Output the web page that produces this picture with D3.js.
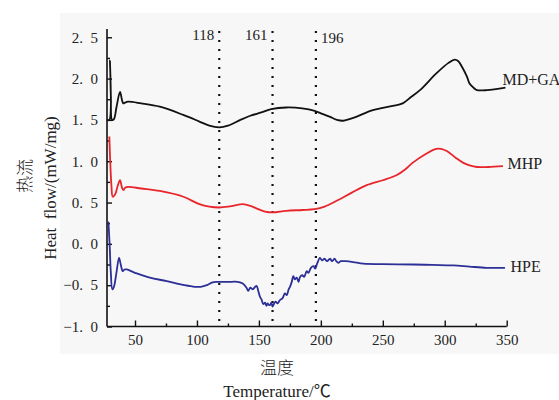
<!DOCTYPE html>
<html><head><meta charset="utf-8">
<script src="https://cdn.jsdelivr.net/npm/d3@7"></script>
<style>
html,body{margin:0;padding:0;background:#fff;}
svg{display:block;}
text{font-family:"Liberation Serif","Times New Roman","Noto Sans CJK SC",serif;fill:#222;}
</style></head>
<body>
<script>
// ---- data ----
const mdgaT = [27.5,29.3,29.8,30.5,31.5,33,35,37.9,39.5,40.5,42,44.4,55,70,89,102,110,118,125,135,143,152,160,172,185,195,200,207,213,218,223,229,240,248,258,266,273,280,293,303,308,311,314,318,320,324,326,334,349];
const mdgaV = [1.50,1.50,2.22,1.80,1.50,1.51,1.65,1.84,1.74,1.70,1.71,1.72,1.70,1.66,1.56,1.48,1.43,1.41,1.43,1.50,1.55,1.59,1.63,1.65,1.64,1.61,1.58,1.54,1.50,1.49,1.51,1.54,1.61,1.64,1.67,1.70,1.78,1.86,2.06,2.19,2.23,2.21,2.14,2.02,1.94,1.88,1.86,1.86,1.89];

const mhpT = [29.3,30,31,32,34,36,37.9,39.5,40.6,42,44.6,55,70,89,102,110,118,125,132,137,143,148,155,161,172,185,195,203,214,225,237,250,261,268,274,285,293,297,302,309,315,320,326,335,347];
const mhpV = [1.30,1.00,0.70,0.57,0.60,0.70,0.77,0.68,0.65,0.68,0.69,0.67,0.64,0.57,0.48,0.45,0.44,0.45,0.47,0.48,0.46,0.43,0.39,0.38,0.40,0.41,0.42,0.45,0.53,0.62,0.71,0.77,0.83,0.90,0.98,1.09,1.15,1.15,1.12,1.04,0.98,0.95,0.93,0.93,0.94];

const hpeT = [28.5,29.5,30.5,31.7,33,35,37.1,38.5,40.1,41.5,43.3,50,62,75.6,90,98.4,103,108,112,116,125,133,137,140,141.4,143,145,147,148.2,149.5,150.9,152,153.6,155,156,157,158,159,160,161,162,163.5,165,167,169,171,172.5,174,175.1,176.5,177.8,179,180.5,182,183.2,185,186.5,188.6,190,192,194,195.5,197,199.3,201,203,205,207.4,209,211,212.5,214.1,216,220,226,234.3,250,274.6,290,306.9,320,333.9,348.6];
const hpeV = [0.27,0.00,-0.35,-0.55,-0.52,-0.35,-0.17,-0.25,-0.33,-0.31,-0.31,-0.35,-0.41,-0.45,-0.50,-0.52,-0.52,-0.50,-0.47,-0.46,-0.46,-0.46,-0.48,-0.53,-0.57,-0.53,-0.55,-0.52,-0.51,-0.57,-0.64,-0.67,-0.73,-0.71,-0.75,-0.72,-0.74,-0.74,-0.71,-0.76,-0.73,-0.70,-0.72,-0.68,-0.66,-0.60,-0.62,-0.55,-0.52,-0.46,-0.39,-0.43,-0.41,-0.46,-0.40,-0.38,-0.40,-0.33,-0.35,-0.29,-0.27,-0.30,-0.24,-0.17,-0.20,-0.18,-0.21,-0.18,-0.21,-0.18,-0.21,-0.23,-0.21,-0.21,-0.22,-0.24,-0.245,-0.25,-0.255,-0.26,-0.275,-0.29,-0.29];

const seriesNames = ["MD+GA","MHP","HPE"];
const seriesColors = ["#111111","#e8252b","#2c2f96"];
const markerTemps = [118,161,196];
const markerLabels = ["118","161","196"];
const xTicks = [50,100,150,200,250,300,350];
const xTickLabels = ["50","100","150","200","250","300","350"];
const xMinorTicks = [75,125,175,225,275,325];
const yTicks = [-1.0,-0.5,0.0,0.5,1.0,1.5,2.0,2.5];
const yTickLabels = ["\u22121.\u2002 0","\u22120.\u20025","0.\u20020","0.\u20025","1.\u20020","1.\u20025","2.\u20020","2.\u20025"];
const yMinorTicks = [-0.75,-0.25,0.25,0.75,1.25,1.75,2.25];

// ---- drawing ----
const W = 559, H = 400;
const svg = d3.select("body").append("svg").attr("width", W).attr("height", H);
svg.append("rect").attr("x",60).attr("y",13).attr("width",499).attr("height",341).attr("fill","#f7f7f7");

const x = d3.scaleLinear().domain([27.4, 350]).range([107, 506.7]);
const y = d3.scaleLinear().domain([-1, 2.6]).range([326.5, 29]);

// markers (dotted)
svg.append("g").selectAll("line").data(markerTemps).join("line")
  .attr("x1", d => x(d)).attr("x2", d => x(d))
  .attr("y1", 31).attr("y2", y(-1))
  .attr("stroke", "#111").attr("stroke-width", 2.2)
  .attr("stroke-dasharray", "2,7");

// axes
const yAxis = d3.axisLeft(y).tickValues(yTicks).tickSize(-5).tickPadding(9)
  .tickFormat((d,i) => yTickLabels[i].replace("\u2002 ", "\u2002"));
const gy = svg.append("g").attr("transform", `translate(${x.range()[0]},0)`).call(yAxis);
const gyMinor = svg.append("g").attr("transform", `translate(${x.range()[0]},0)`)
  .call(d3.axisLeft(y).tickValues(yMinorTicks).tickSize(-3).tickFormat(""));
const xAxis = d3.axisBottom(x).tickValues(xTicks).tickSize(-6).tickPadding(8)
  .tickFormat((d,i) => xTickLabels[i]);
const gx = svg.append("g").attr("transform", `translate(0,${y(-1)})`).call(xAxis);
const gxMinor = svg.append("g").attr("transform", `translate(0,${y(-1)})`)
  .call(d3.axisBottom(x).tickValues(xMinorTicks).tickSize(-3).tickFormat(""));
[gy, gyMinor, gx, gxMinor].forEach(g => {
  g.selectAll(".domain").attr("stroke", "#111").attr("stroke-width", 1.6);
  g.selectAll(".tick line").attr("stroke", "#111").attr("stroke-width", 1.4);
  g.selectAll(".tick text").attr("font-size", 15).attr("fill", "#222")
    .attr("font-family", '"Liberation Serif","Times New Roman",serif');
});
gyMinor.select(".domain").remove();
gxMinor.select(".domain").remove();
gy.select(".domain").attr("d", `M0,${y.range()[1]}V${y.range()[0]}`);
gx.select(".domain").attr("d", `M${x.range()[0]},0H${x.range()[1]}`);

// curves
const line = d3.line().x(d => x(d[0])).y(d => y(d[1])).curve(d3.curveCatmullRom.alpha(0.5));
const series = [d3.zip(mdgaT, mdgaV), d3.zip(mhpT, mhpV), d3.zip(hpeT, hpeV)];
svg.append("g").selectAll("path").data(series).join("path")
  .attr("d", line).attr("fill", "none")
  .attr("stroke", (d,i) => seriesColors[i]).attr("stroke-width", 1.8)
  .attr("stroke-linejoin", "round");

// series labels
const labelPos = [[502.5, 85], [507.5, 169], [510.5, 272]];
svg.append("g").selectAll("text").data(seriesNames).join("text")
  .attr("x", (d,i) => labelPos[i][0]).attr("y", (d,i) => labelPos[i][1])
  .attr("font-size", 16).text(d => d);

// marker labels
svg.append("g").selectAll("text").data(markerLabels).join("text")
  .attr("x", (d,i) => i < 2 ? x(markerTemps[i]) - 5 : x(markerTemps[i]) + 5)
  .attr("y", (d,i) => i < 2 ? 40 : 43)
  .attr("text-anchor", (d,i) => i < 2 ? "end" : "start")
  .attr("font-size", 15).text(d => d);

// axis titles
svg.append("text").attr("transform", "translate(31,176) rotate(-90)")
  .attr("text-anchor", "middle").attr("font-size", 17)
  .attr("font-family", '"Noto Sans CJK SC",sans-serif').attr("font-weight", 300).text("热流");
svg.append("text").attr("transform", "translate(56,188) rotate(-90)")
  .attr("text-anchor", "middle").attr("font-size", 17)
  .attr("xml:space", "preserve").text("Heat  flow/(mW/mg)");
svg.append("text").attr("x", 277).attr("y", 374).attr("text-anchor", "middle")
  .attr("font-size", 17).attr("font-family", '"Noto Sans CJK SC",sans-serif')
  .attr("font-weight", 300).text("温度");
svg.append("text").attr("x", 277).attr("y", 397).attr("text-anchor", "middle")
  .attr("font-size", 17).text("Temperature/℃");
</script>
</body></html>
